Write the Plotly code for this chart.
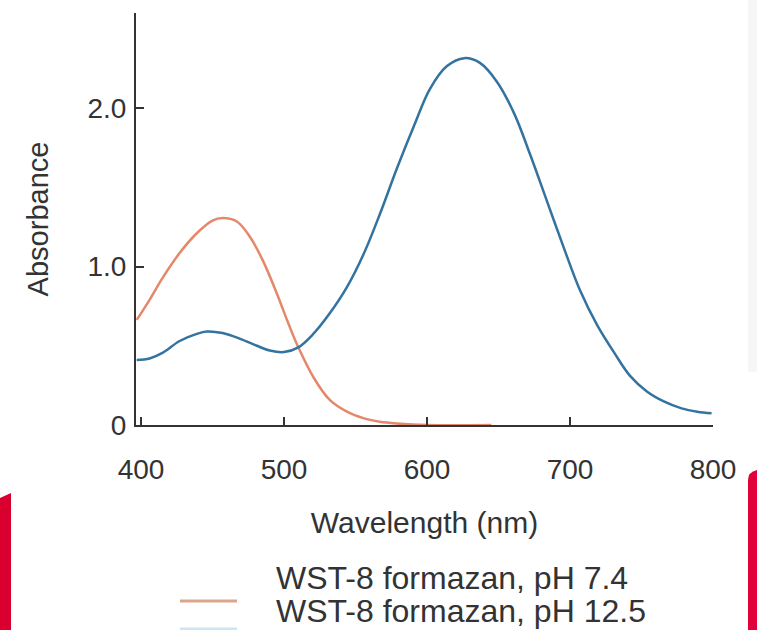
import plotly.graph_objects as go

# ---- data ----
wl_ph74 = [397, 406, 415, 427, 439, 450, 457, 467, 476, 485, 495, 503, 510, 521, 532, 544, 556, 567, 579, 600, 645]
abs_ph74 = [0.663, 0.79, 0.927, 1.085, 1.21, 1.29, 1.306, 1.284, 1.19, 1.042, 0.83, 0.642, 0.49, 0.295, 0.158, 0.084, 0.042, 0.021, 0.01, 0.0, 0.0]

wl_ph125 = [397, 406, 415, 427, 439, 446, 457, 469, 481, 490, 500, 510, 520, 532, 544, 556, 567, 579, 591, 602, 614, 626, 637, 649, 661, 672, 684, 696, 707, 719, 731, 742, 754, 766, 778, 789, 799]
abs_ph125 = [0.41, 0.42, 0.455, 0.53, 0.575, 0.59, 0.58, 0.545, 0.50, 0.47, 0.46, 0.49, 0.57, 0.705, 0.87, 1.085, 1.33, 1.62, 1.89, 2.12, 2.265, 2.315, 2.285, 2.165, 1.965, 1.71, 1.41, 1.11, 0.85, 0.63, 0.455, 0.31, 0.21, 0.147, 0.105, 0.084, 0.074]

x_ticks = [400, 500, 600, 700, 800]
y_ticks = [0, 1.0, 2.0]
y_tick_text = ["0", "1.0", "2.0"]
legend_labels = ["WST-8 formazan, pH 7.4", "WST-8 formazan, pH 12.5"]

ORANGE = "#e5876a"
BLUE = "#33739f"
TXT = "#333333"
FONT = "Liberation Sans, Arial, sans-serif"

fig = go.Figure()
fig.add_trace(go.Scatter(x=wl_ph74, y=abs_ph74, mode="lines", name=legend_labels[0],
                         line=dict(color=ORANGE, width=2.5, shape="spline", smoothing=1.0)))
fig.add_trace(go.Scatter(x=wl_ph125, y=abs_ph125, mode="lines", name=legend_labels[1],
                         line=dict(color=BLUE, width=2.5, shape="spline", smoothing=1.0)))

fig.update_layout(
    width=757, height=630,
    margin=dict(l=136, r=44, t=13, b=205, autoexpand=False),
    paper_bgcolor="white", plot_bgcolor="white",
    showlegend=False,
    font=dict(family=FONT, color=TXT, size=28),
)
fig.update_xaxes(range=[396.5, 800], tickvals=x_ticks, showline=True, linecolor=TXT, linewidth=2,
                 ticks="inside", ticklen=8, tickwidth=2, tickcolor=TXT, showgrid=False, zeroline=False,
                 tickfont=dict(size=28), ticklabelstandoff=18, automargin=False,
                 title=dict(text="Wavelength (nm)", font=dict(size=30), standoff=28))
fig.update_yaxes(range=[0, 2.6], tickvals=y_ticks, ticktext=y_tick_text, showline=True, linecolor=TXT,
                 linewidth=2, ticks="inside", ticklen=8, tickwidth=2, tickcolor=TXT, showgrid=False,
                 zeroline=False, tickfont=dict(size=28), ticklabelstandoff=2, automargin=False,
                 title=dict(text="Absorbance", font=dict(size=29), standoff=30))

# legend, drawn as in the reference (below the x-axis title)
def px_x(px):
    return (px - 136) / 577.0

def px_y(py):
    return (425 - py) / 412.0

for label, py in zip(legend_labels, [578, 611]):
    fig.add_annotation(text=label, xref="paper", yref="paper", x=px_x(274), y=px_y(py),
                       xanchor="left", yanchor="middle", showarrow=False,
                       font=dict(size=32, family=FONT, color=TXT))
fig.add_shape(type="line", xref="paper", yref="paper", x0=px_x(180), x1=px_x(237),
              y0=px_y(601), y1=px_y(601), line=dict(color="#dba58c", width=3))
fig.add_shape(type="line", xref="paper", yref="paper", x0=px_x(180), x1=px_x(237),
              y0=px_y(629), y1=px_y(629), line=dict(color="#cfe6f2", width=3))

# red page decorations at the edges of the reference
fig.add_shape(type="path", xref="paper", yref="paper",
              path=f"M {px_x(0)},{px_y(498)} L {px_x(11)},{px_y(493)} L {px_x(11)},{px_y(632)} L {px_x(0)},{px_y(632)} Z",
              fillcolor="#d9002f", line=dict(width=0), layer="above")
fig.add_shape(type="path", xref="paper", yref="paper",
              path=f"M {px_x(748)},{px_y(480)} Q {px_x(748)},{px_y(472)} {px_x(757)},{px_y(470)} L {px_x(758)},{px_y(632)} L {px_x(748)},{px_y(632)} Z",
              fillcolor="#e0003a", line=dict(width=0), layer="above")
fig.add_shape(type="rect", xref="paper", yref="paper", x0=px_x(748), x1=px_x(758),
              y0=px_y(372), y1=px_y(0), fillcolor="#f6f6f6", line=dict(width=0), layer="below")

fig.write_html("out.html", config={"displayModeBar": False},
               post_script="document.body.style.margin='0px';document.body.style.overflow='hidden';")
